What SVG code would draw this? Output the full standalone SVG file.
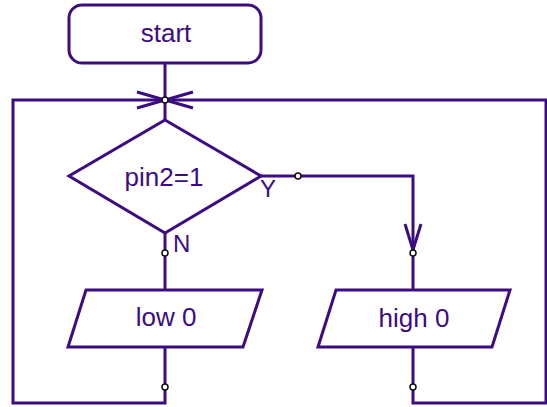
<svg xmlns="http://www.w3.org/2000/svg" width="547" height="407" viewBox="0 0 547 407">
<style>
.s{fill:#fff;stroke:#3c0c82;stroke-width:3;stroke-linejoin:miter}
.l{fill:none;stroke:#3c0c82;stroke-width:3}
.t{font-family:"Liberation Sans",Arial,sans-serif;font-size:26px;fill:#3c0c82;text-anchor:middle}
.y{font-family:"Liberation Sans",Arial,sans-serif;font-size:24px;fill:#3c0c82}
.d{fill:#fff;stroke:#111;stroke-width:1.5}
</style>
<g id="connectors">
<path class="l" d="M165,63 V120"/>
<path class="l" d="M13,385 V100 H546 V403 H413 V347"/>
<path class="l" d="M165,347 V403 H13 V385"/>
<path class="l" d="M165,233 V290"/>
<path class="l" d="M259,176 H413 V290"/>
<path class="l" d="M137,92 L165,100 L137,108 M193,92 L165,100 L193,108"/>
<path class="l" d="M405,224 L413,250 L421,224"/>
<circle class="d" cx="165" cy="100" r="3"/>
<circle class="d" cx="298" cy="176" r="3"/>
<circle class="d" cx="165" cy="253" r="3"/>
<circle class="d" cx="413" cy="253" r="3"/>
<circle class="d" cx="165" cy="387" r="3"/>
<circle class="d" cx="413" cy="387" r="3"/>
<text class="y" x="260" y="197">Y</text>
<text class="y" x="173" y="252">N</text>
</g>
<g id="start">
<rect class="s" x="69" y="5" width="192" height="58" rx="13"/>
<text class="t" x="166" y="42">start</text>
</g>
<g id="decision">
<polygon class="s" points="165,120 261,176 165,233 69,176"/>
<text class="t" x="164" y="186">pin2=1</text>
</g>
<g id="low">
<polygon class="s" points="86,290 262,290 243,347 68,347"/>
<text class="t" x="166" y="326">low 0</text>
</g>
<g id="high">
<polygon class="s" points="336,290 510,290 492,347 318,347"/>
<text class="t" x="414" y="327">high 0</text>
</g>
</svg>
